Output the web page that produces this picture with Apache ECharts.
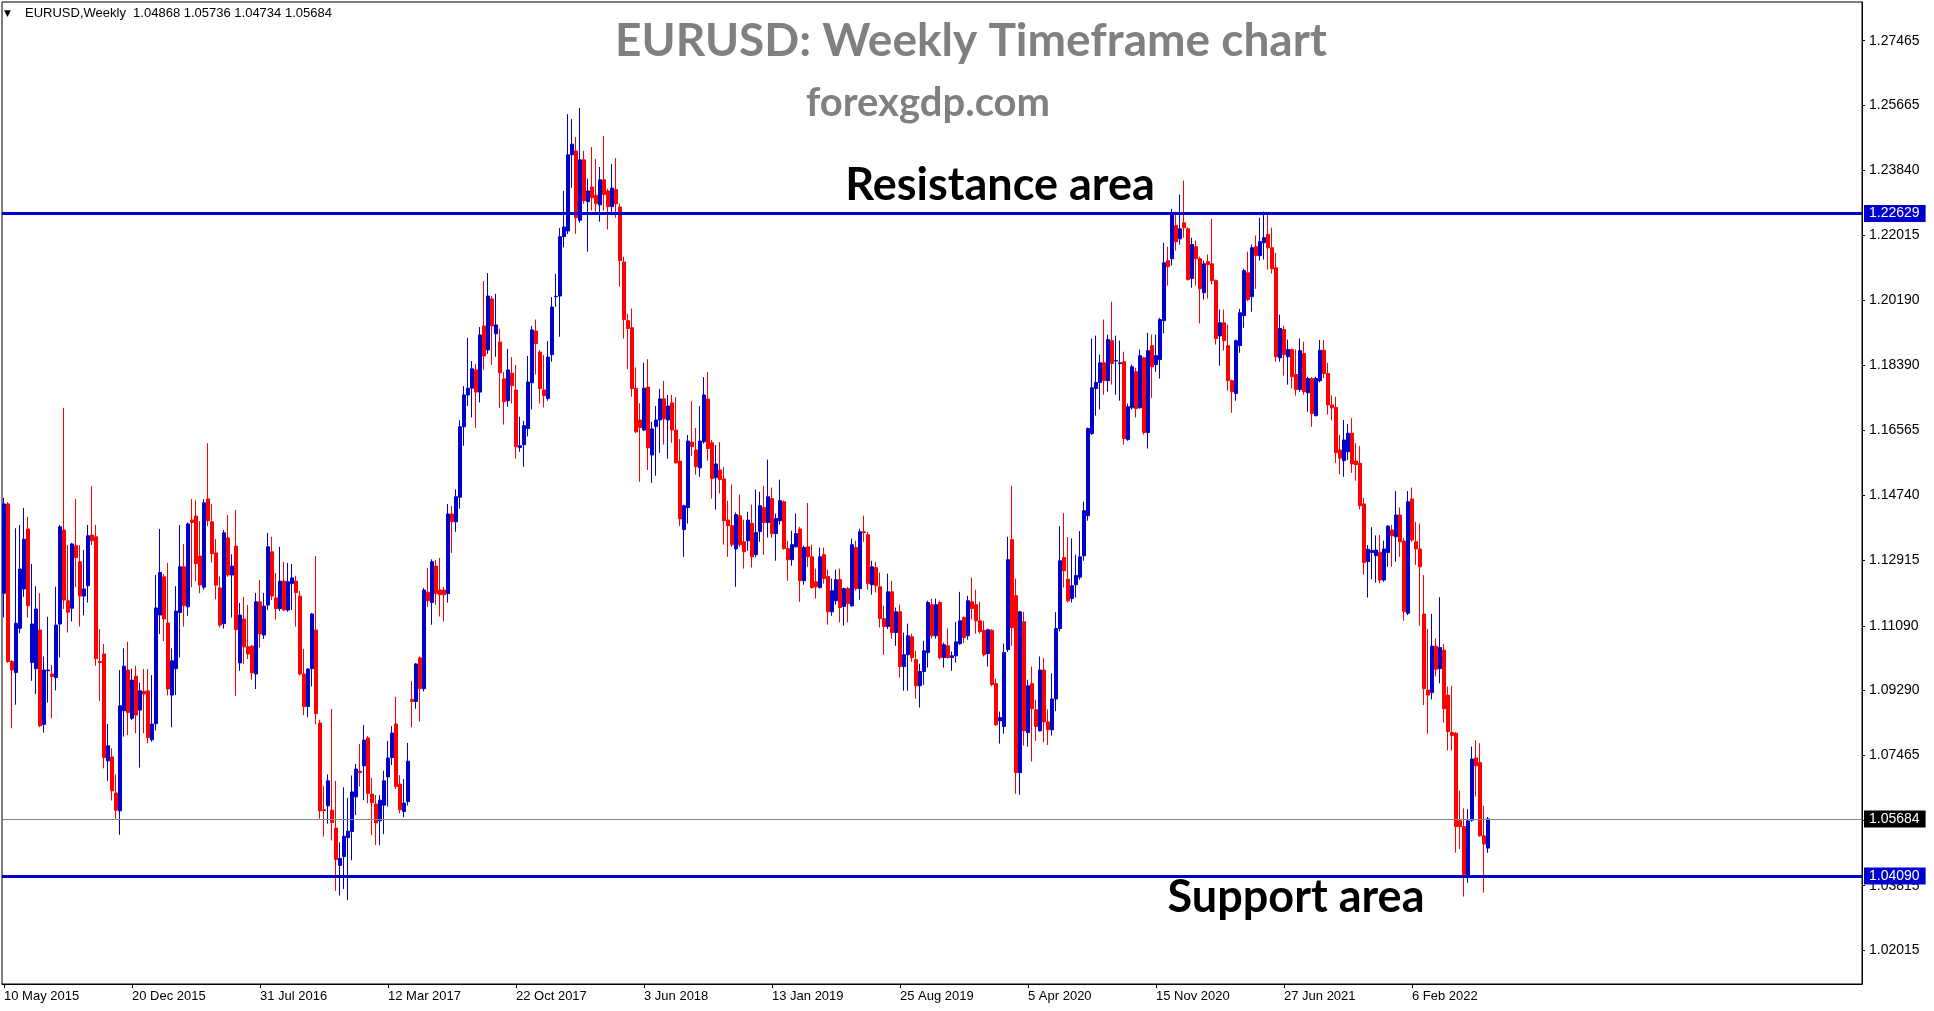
<!DOCTYPE html>
<html>
<head>
<meta charset="utf-8">
<title>EURUSD Weekly</title>
<script src="https://cdn.jsdelivr.net/npm/echarts@6/dist/echarts.min.js"></script>
<style>
  html, body { margin: 0; padding: 0; background: #fff; }
  #chart { width: 1934px; height: 1011px; }
</style>
</head>
<body>
<div id="chart"></div>
<script>
// one row per week: [open, high, low, close]
const ohlc2015 = [
  [1.1200,1.1467,1.1132,1.1450],[1.1450,1.1455,1.1005,1.1009],[1.1009,1.1013,1.0822,1.0985],[1.0978,1.1382,1.0888,1.1116],
  [1.1102,1.1391,1.1088,1.1268],[1.1212,1.1439,1.1190,1.1351],[1.1380,1.1414,1.1132,1.1165],[1.1006,1.1282,1.0955,1.1114],
  [1.0989,1.1220,1.0918,1.1156],[1.1097,1.1200,1.0825,1.0829],[1.0833,1.1023,1.0810,1.0985],[1.0983,1.1134,1.0894,1.0985],
  [1.0974,1.0999,1.0850,1.0967],[1.0964,1.1218,1.0928,1.1111],[1.1114,1.1391,1.1020,1.1386],[1.1377,1.1719,1.1156,1.1181],
  [1.1179,1.1335,1.1090,1.1147],[1.1158,1.1341,1.1121,1.1338],[1.1333,1.1464,1.1217,1.1300],[1.1288,1.1335,1.1107,1.1192],
  [1.1192,1.1321,1.1138,1.1212],[1.1221,1.1391,1.1174,1.1361],[1.1363,1.1500,1.1335,1.1347],[1.1358,1.1391,1.0997,1.1017],
  [1.1009,1.1099,1.0899,1.1006],[1.1030,1.1058,1.0710,1.0740],[1.0731,1.0834,1.0675,1.0773],[1.0742,1.0766,1.0620,1.0647],
  [1.0641,1.0693,1.0569,1.0593],[1.0591,1.0985,1.0524,1.0885],[1.0871,1.1046,1.0799,1.0996],[1.0985,1.1064,1.0803,1.0866],
  [1.0850,1.0989,1.0845,1.0957],[1.0968,1.0997,1.0808,1.0859]
];
const ohlc2016 = [
  [1.0873,1.0950,1.0712,1.0927],[1.0925,1.0988,1.0808,1.0918],[1.0927,1.0988,1.0780,1.0796],[1.0790,1.0971,1.0785,1.0834],
  [1.0835,1.1251,1.0816,1.1159],[1.1139,1.1380,1.1086,1.1258],[1.1246,1.1254,1.1066,1.1128],[1.1117,1.1285,1.0914,1.0932],
  [1.0915,1.1046,1.0825,1.1011],[1.0989,1.1220,1.0915,1.1150],[1.1146,1.1391,1.1020,1.1274],[1.1274,1.1338,1.1107,1.1165],
  [1.1162,1.1398,1.1137,1.1394],[1.1405,1.1464,1.1217,1.1398],[1.1416,1.1460,1.1234,1.1283],[1.1304,1.1402,1.1200,1.1223],
  [1.1217,1.1464,1.1210,1.1453],[1.1464,1.1620,1.1388,1.1403],[1.1400,1.1450,1.1286,1.1311],[1.1313,1.1352,1.1183,1.1223],
  [1.1215,1.1247,1.1105,1.1111],[1.1115,1.1377,1.1101,1.1369],[1.1355,1.1419,1.1246,1.1251],[1.1251,1.1309,1.1132,1.1276],
  [1.1332,1.1433,1.0913,1.1098],[1.1005,1.1173,1.0983,1.1139],[1.1128,1.1190,1.1002,1.1050],[1.1050,1.1167,1.1016,1.1030],
  [1.1052,1.1055,1.0958,1.0977],[1.0974,1.1201,1.0932,1.1176],[1.1176,1.1237,1.1048,1.1086],[1.1083,1.1201,1.1072,1.1164],
  [1.1167,1.1369,1.1153,1.1330],[1.1316,1.1358,1.1181,1.1192],[1.1187,1.1257,1.1126,1.1157],[1.1157,1.1330,1.1150,1.1234],
  [1.1234,1.1288,1.1150,1.1153],[1.1153,1.1285,1.1148,1.1232],[1.1227,1.1282,1.1153,1.1243],[1.1234,1.1249,1.1107,1.1202],
  [1.1192,1.1206,1.0970,1.0974],[1.0974,1.1044,1.0859,1.0883],[1.0883,1.0990,1.0853,1.0988],[1.0989,1.1145,1.0939,1.1142],
  [1.1097,1.1304,1.0833,1.0863],[1.0837,1.0845,1.0569,1.0591],[1.0594,1.0660,1.0519,1.0592],[1.0605,1.0693,1.0555,1.0675],
  [1.0593,1.0876,1.0508,1.0558],[1.0543,1.0675,1.0367,1.0455],[1.0438,1.0503,1.0354,1.0458],[1.0463,1.0657,1.0372,1.0520]
];
const ohlc2017 = [
  [1.0516,1.0627,1.0341,1.0534],[1.0533,1.0690,1.0453,1.0644],[1.0630,1.0722,1.0579,1.0708],[1.0702,1.0778,1.0659,1.0698],
  [1.0717,1.0831,1.0621,1.0789],[1.0795,1.0800,1.0612,1.0640],[1.0638,1.0683,1.0523,1.0614],[1.0610,1.0635,1.0495,1.0557],
  [1.0563,1.0635,1.0495,1.0621],[1.0607,1.0703,1.0526,1.0675],[1.0686,1.0787,1.0603,1.0739],[1.0740,1.0828,1.0719,1.0809],
  [1.0834,1.0910,1.0652,1.0659],[1.0666,1.0691,1.0584,1.0594],[1.0589,1.0680,1.0573,1.0613],[1.0617,1.0781,1.0606,1.0730],
  [1.0903,1.0954,1.0825,1.0897],[1.0897,1.1005,1.0877,1.1002],[1.1019,1.1023,1.0841,1.0933],[1.0933,1.1215,1.0925,1.1209],
  [1.1203,1.1271,1.1162,1.1179],[1.1174,1.1295,1.1112,1.1288],[1.1276,1.1293,1.1168,1.1199],[1.1209,1.1299,1.1135,1.1196],
  [1.1209,1.1218,1.1121,1.1196],[1.1199,1.1450,1.1174,1.1422],[1.1422,1.1444,1.1313,1.1400],[1.1400,1.1491,1.1372,1.1470],
  [1.1469,1.1684,1.1437,1.1666],[1.1666,1.1780,1.1613,1.1755],[1.1755,1.1915,1.1724,1.1774],[1.1774,1.1850,1.1692,1.1828],
  [1.1825,1.1842,1.1663,1.1763],[1.1763,1.1945,1.1734,1.1923],[1.1948,1.2074,1.1825,1.1864],[1.1881,1.2096,1.1870,1.2032],
  [1.2024,1.2032,1.1839,1.1948],[1.1926,1.2038,1.1862,1.1951],[1.1903,1.1940,1.1719,1.1817],[1.1800,1.1819,1.1672,1.1736],
  [1.1739,1.1884,1.1722,1.1825],[1.1816,1.1861,1.1731,1.1781],[1.1769,1.1839,1.1577,1.1610],[1.1608,1.1694,1.1596,1.1613],
  [1.1616,1.1683,1.1554,1.1669],[1.1661,1.1864,1.1639,1.1791],[1.1789,1.1948,1.1714,1.1937],[1.1934,1.1966,1.1812,1.1899],
  [1.1875,1.1881,1.1731,1.1773],[1.1769,1.1867,1.1720,1.1753],[1.1745,1.1906,1.1739,1.1861],[1.1868,1.2029,1.1848,1.2001]
];
const ohlc2018 = [
  [1.2030,1.2094,1.2002,1.2031],[1.2032,1.2222,1.1918,1.2198],[1.2198,1.2326,1.2168,1.2225],[1.2214,1.2541,1.2205,1.2427],
  [1.2427,1.2527,1.2335,1.2457],[1.2438,1.2477,1.2206,1.2251],[1.2244,1.2558,1.2237,1.2413],[1.2413,1.2438,1.2290,1.2299],
  [1.2296,1.2360,1.2156,1.2326],[1.2337,1.2449,1.2271,1.2307],[1.2314,1.2415,1.2268,1.2290],[1.2287,1.2393,1.2240,1.2357],
  [1.2357,1.2480,1.2271,1.2316],[1.2326,1.2332,1.2218,1.2282],[1.2282,1.2401,1.2260,1.2334],[1.2330,1.2418,1.2251,1.2290],
  [1.2281,1.2291,1.2058,1.2131],[1.2127,1.2142,1.1913,1.1966],[1.1963,1.1982,1.1827,1.1941],[1.1943,1.1997,1.1750,1.1773],
  [1.1774,1.1832,1.1648,1.1652],[1.1685,1.1732,1.1512,1.1664],[1.1657,1.1845,1.1654,1.1774],[1.1777,1.1855,1.1545,1.1607],
  [1.1587,1.1680,1.1509,1.1660],[1.1667,1.1724,1.1529,1.1685],[1.1685,1.1772,1.1593,1.1744],[1.1744,1.1794,1.1616,1.1688],
  [1.1685,1.1755,1.1577,1.1724],[1.1733,1.1755,1.1621,1.1657],[1.1657,1.1749,1.1563,1.1565],[1.1570,1.1632,1.1388,1.1408],
  [1.1378,1.1448,1.1302,1.1445],[1.1440,1.1643,1.1395,1.1626],[1.1623,1.1738,1.1584,1.1610],[1.1601,1.1663,1.1532,1.1554],
  [1.1551,1.1724,1.1526,1.1626],[1.1624,1.1805,1.1619,1.1755],[1.1744,1.1819,1.1571,1.1605],[1.1621,1.1629,1.1465,1.1521],
  [1.1523,1.1615,1.1434,1.1562],[1.1545,1.1623,1.1479,1.1518],[1.1520,1.1553,1.1336,1.1403],[1.1405,1.1459,1.1302,1.1389],
  [1.1389,1.1504,1.1330,1.1336],[1.1324,1.1426,1.1218,1.1420],[1.1417,1.1476,1.1330,1.1336],[1.1344,1.1406,1.1269,1.1316],
  [1.1347,1.1428,1.1319,1.1405],[1.1396,1.1448,1.1272,1.1302],[1.1308,1.1490,1.1300,1.1370],[1.1373,1.1484,1.1344,1.1445]
];
const ohlc2019 = [
  [1.1440,1.1501,1.1308,1.1398],[1.1398,1.1574,1.1356,1.1470],[1.1465,1.1496,1.1356,1.1367],[1.1367,1.1423,1.1291,1.1409],
  [1.1403,1.1518,1.1392,1.1459],[1.1456,1.1460,1.1322,1.1325],[1.1325,1.1347,1.1235,1.1294],[1.1294,1.1375,1.1277,1.1336],
  [1.1330,1.1423,1.1328,1.1367],[1.1380,1.1386,1.1176,1.1235],[1.1235,1.1333,1.1224,1.1328],[1.1330,1.1453,1.1274,1.1302],
  [1.1302,1.1336,1.1213,1.1216],[1.1232,1.1269,1.1185,1.1218],[1.1216,1.1328,1.1213,1.1302],[1.1308,1.1328,1.1227,1.1241],
  [1.1247,1.1266,1.1112,1.1148],[1.1148,1.1241,1.1137,1.1207],[1.1179,1.1266,1.1168,1.1238],[1.1238,1.1269,1.1118,1.1160],
  [1.1163,1.1216,1.1109,1.1213],[1.1213,1.1218,1.1118,1.1171],[1.1165,1.1353,1.1162,1.1336],[1.1328,1.1347,1.1207,1.1213],
  [1.1213,1.1381,1.1182,1.1372],[1.1372,1.1417,1.1344,1.1370],[1.1364,1.1372,1.1210,1.1227],[1.1224,1.1291,1.1196,1.1274],
  [1.1272,1.1288,1.1202,1.1221],[1.1218,1.1258,1.1104,1.1129],[1.1129,1.1165,1.1028,1.1107],[1.1107,1.1255,1.1100,1.1204],
  [1.1204,1.1235,1.1073,1.1090],[1.1090,1.1160,1.1053,1.1148],[1.1148,1.1168,1.0964,1.0995],[1.0995,1.1090,1.0927,1.1028],
  [1.1028,1.1115,1.0927,1.1081],[1.1078,1.1087,1.1008,1.1020],[1.1014,1.1039,1.0905,1.0941],[1.0941,1.1003,1.0880,1.0981],
  [1.0981,1.1067,1.0944,1.1039],[1.1034,1.1179,1.0992,1.1174],[1.1168,1.1185,1.1073,1.1081],[1.1081,1.1185,1.1073,1.1168],
  [1.1174,1.1179,1.1015,1.1020],[1.1020,1.1062,1.0992,1.1056],[1.1053,1.1101,1.1017,1.1020],[1.1020,1.1037,1.0983,1.1025],
  [1.1025,1.1120,1.1006,1.1064],[1.1059,1.1204,1.1056,1.1123],[1.1132,1.1135,1.1060,1.1076],[1.1081,1.1193,1.1070,1.1179]
];
const ohlc2020 = [
  [1.1176,1.1244,1.1126,1.1157],[1.1168,1.1210,1.1087,1.1123],[1.1123,1.1176,1.1087,1.1093],[1.1096,1.1123,1.1023,1.1028],
  [1.1031,1.1101,1.0995,1.1098],[1.1096,1.1100,1.0940,1.0944],[1.0947,1.0961,1.0829,1.0832],[1.0843,1.0869,1.0779,1.0852],
  [1.0827,1.1059,1.0807,1.1034],[1.1042,1.1358,1.1036,1.1294],[1.1350,1.1501,1.1053,1.1104],[1.1193,1.1241,1.0639,1.0698],
  [1.0698,1.1151,1.0636,1.1148],[1.1120,1.1148,1.0774,1.0815],[1.0810,1.0958,1.0771,1.0941],[1.0947,1.0995,1.0729,1.0877],
  [1.0874,1.0902,1.0787,1.0827],[1.0815,1.1023,1.0813,1.0985],[1.0985,1.1018,1.0783,1.0840],[1.0840,1.0875,1.0775,1.0818],
  [1.0818,1.0976,1.0802,1.0904],[1.0904,1.1147,1.0870,1.1101],[1.1101,1.1388,1.1093,1.1291],[1.1300,1.1424,1.1216,1.1263],
  [1.1239,1.1357,1.1174,1.1179],[1.1185,1.1353,1.1174,1.1221],[1.1224,1.1308,1.1188,1.1250],[1.1245,1.1374,1.1238,1.1302],
  [1.1305,1.1456,1.1291,1.1431],[1.1417,1.1664,1.1403,1.1661],[1.1647,1.1913,1.1643,1.1775],[1.1773,1.1921,1.1697,1.1790],
  [1.1790,1.1868,1.1714,1.1845],[1.1845,1.1966,1.1756,1.1795],[1.1795,1.1924,1.1764,1.1910],[1.1907,1.2016,1.1784,1.1843],
  [1.1850,1.1921,1.1756,1.1851],[1.1843,1.1907,1.1739,1.1845],[1.1848,1.1876,1.1616,1.1633],[1.1630,1.1731,1.1627,1.1722],
  [1.1719,1.1840,1.1714,1.1834],[1.1820,1.1831,1.1692,1.1717],[1.1719,1.1882,1.1717,1.1865],[1.1859,1.1862,1.1644,1.1650],
  [1.1650,1.1929,1.1605,1.1879],[1.1893,1.1924,1.1747,1.1834],[1.1840,1.1924,1.1820,1.1865],[1.1854,1.1971,1.1801,1.1966],
  [1.1963,1.2181,1.1927,1.2125],[1.2131,1.2170,1.2061,1.2114],[1.2136,1.2276,1.2117,1.2260],[1.2229,1.2268,1.2159,1.2184]
];
const ohlc2021 = [
  [1.2192,1.2316,1.2176,1.2220],[1.2237,1.2355,1.2195,1.2223],[1.2220,1.2224,1.2075,1.2078],[1.2081,1.2195,1.2055,1.2176],
  [1.2170,1.2187,1.2061,1.2136],[1.2136,1.2142,1.1955,1.2052],[1.2041,1.2131,1.2022,1.2122],[1.2128,1.2148,1.2025,1.2120],
  [1.2122,1.2248,1.2064,1.2075],[1.2075,1.2078,1.1896,1.1913],[1.1920,1.1994,1.1837,1.1957],[1.1957,1.1994,1.1879,1.1907],
  [1.1893,1.1952,1.1767,1.1795],[1.1795,1.1798,1.1705,1.1764],[1.1759,1.1910,1.1739,1.1907],[1.1893,1.1996,1.1873,1.1985],
  [1.1977,1.2108,1.1943,1.2103],[1.2097,1.2156,1.2017,1.2022],[1.2030,1.2176,1.1988,1.2167],[1.2170,1.2201,1.2052,1.2145],
  [1.2145,1.2251,1.2131,1.2184],[1.2181,1.2268,1.2134,1.2195],[1.2204,1.2260,1.2106,1.2167],[1.2167,1.2223,1.2095,1.2108],
  [1.2111,1.2153,1.1848,1.1862],[1.1859,1.1980,1.1848,1.1941],[1.1938,1.1949,1.1809,1.1868],[1.1862,1.1910,1.1784,1.1882],
  [1.1882,1.1885,1.1773,1.1806],[1.1812,1.1882,1.1753,1.1770],[1.1770,1.1913,1.1764,1.1879],[1.1871,1.1904,1.1756,1.1764],
  [1.1761,1.1806,1.1708,1.1801],[1.1801,1.1805,1.1666,1.1703],[1.1697,1.1806,1.1695,1.1801],[1.1795,1.1909,1.1790,1.1880],
  [1.1880,1.1909,1.1802,1.1815],[1.1815,1.1845,1.1700,1.1727],[1.1727,1.1754,1.1684,1.1719],[1.1720,1.1750,1.1565,1.1593],
  [1.1601,1.1643,1.1533,1.1578],[1.1571,1.1685,1.1526,1.1629],[1.1596,1.1674,1.1573,1.1648],[1.1648,1.1690,1.1537,1.1562],
  [1.1570,1.1620,1.1515,1.1560],[1.1564,1.1612,1.1435,1.1445],[1.1450,1.1467,1.1252,1.1286],[1.1289,1.1335,1.1188,1.1323],
  [1.1314,1.1385,1.1239,1.1320],[1.1305,1.1362,1.1230,1.1321],[1.1315,1.1363,1.1228,1.1237],[1.1237,1.1347,1.1232,1.1324]
];
const ohlc2022 = [
  [1.1314,1.1390,1.1274,1.1388],[1.1377,1.1391,1.1274,1.1361],[1.1358,1.1486,1.1288,1.1419],[1.1419,1.1440,1.1302,1.1344],
  [1.1346,1.1354,1.1123,1.1149],[1.1144,1.1486,1.1139,1.1456],[1.1464,1.1496,1.1344,1.1349],[1.1344,1.1400,1.1279,1.1324],
  [1.1324,1.1395,1.1109,1.1274],[1.1142,1.1251,1.0887,1.0933],[1.0929,1.1100,1.0807,1.0915],[1.0922,1.1142,1.0903,1.1052],
  [1.1052,1.1073,1.0967,1.0987],[1.0989,1.1189,1.0948,1.1048],[1.1041,1.1058,1.0838,1.0877],[1.0915,1.0939,1.0760,1.0813],
  [1.0810,1.0941,1.0760,1.0802],[1.0808,1.0812,1.0474,1.0547],[1.0563,1.0648,1.0484,1.0547],[1.0547,1.0598,1.0351,1.0412],
  [1.0412,1.0596,1.0390,1.0563],[1.0565,1.0771,1.0561,1.0736],[1.0739,1.0789,1.0631,1.0717],[1.0726,1.0780,1.0519,1.0521],
  [1.0521,1.0605,1.0362,1.0498],[1.04868,1.05736,1.04734,1.05684]
];

// x-axis labels, one every 32 weeks starting at the first candle
const dateLabels = ['10 May 2015', '20 Dec 2015', '31 Jul 2016', '12 Mar 2017', '22 Oct 2017', '3 Jun 2018',
  '13 Jan 2019', '25 Aug 2019', '5 Apr 2020', '15 Nov 2020', '27 Jun 2021', '6 Feb 2022'];
const priceTicks = [1.27465, 1.25665, 1.23840, 1.22015, 1.20190, 1.18390, 1.16565, 1.14740,
  1.12915, 1.11090, 1.09290, 1.07465, 1.05640, 1.03815, 1.02015];
const resistanceLevel = 1.22629;
const supportLevel = 1.04090;

const weeks = [].concat(ohlc2015, ohlc2016, ohlc2017, ohlc2018, ohlc2019, ohlc2020, ohlc2021, ohlc2022);
const lastWeek = weeks[weeks.length - 1];
const labelStep = 32;
const slotCount = 465; // chart leaves empty room on the right like MT4

const categories = [];
for (let i = 0; i < slotCount; i++) categories.push(String(i));

const candleData = weeks.map(w => [w[0], w[3], w[2], w[1]]);
const headerText = 'EURUSD,Weekly  ' + lastWeek.map(v => v.toFixed(5)).join(' ');

const isLabelSlot = (index) => index % labelStep === 0 && index / labelStep < dateLabels.length;

const blue = '#0000CD';
const red = '#FF0000';

const levelLabel = (bg) => ({
  show: true,
  position: 'end',
  distance: 2,
  formatter: (p) => Number(p.value).toFixed(5),
  color: '#fff',
  backgroundColor: bg,
  padding: [2, 6, 1, 5],
  fontFamily: 'Liberation Sans',
  fontSize: 14
});

const chart = echarts.init(document.getElementById('chart'));

const option = {
  animation: false,
  backgroundColor: '#fff',
  grid: {
    show: true,
    left: 2,
    right: 72,
    top: 2,
    bottom: 27,
    borderColor: '#000',
    borderWidth: 1,
    backgroundColor: '#fff'
  },
  xAxis: {
    type: 'category',
    data: categories,
    boundaryGap: true,
    axisLine: { show: true, lineStyle: { color: '#000', width: 1 } },
    axisTick: {
      show: true,
      alignWithLabel: true,
      interval: isLabelSlot,
      length: 4,
      lineStyle: { color: '#000' }
    },
    axisLabel: {
      interval: isLabelSlot,
      formatter: (value, index) => dateLabels[index / labelStep] || '',
      align: 'left',
      margin: 6,
      color: '#000',
      fontFamily: 'Liberation Sans',
      fontSize: 13
    },
    splitLine: { show: false }
  },
  yAxis: {
    type: 'value',
    position: 'right',
    min: 1.01064,
    max: 1.28548,
    axisLine: { show: true, lineStyle: { color: '#000', width: 1 } },
    axisTick: { show: true, length: 3, customValues: priceTicks, lineStyle: { color: '#000' } },
    axisLabel: {
      customValues: priceTicks,
      formatter: (v) => v.toFixed(5),
      margin: 7,
      color: '#000',
      fontFamily: 'Liberation Sans',
      fontSize: 14
    },
    splitLine: { show: false }
  },
  series: [
    {
      type: 'candlestick',
      data: candleData,
      barWidth: 3,
      itemStyle: {
        color: blue,
        color0: red,
        borderColor: blue,
        borderColor0: red,
        borderWidth: 1
      },
      markLine: {
        silent: true,
        precision: 5,
        symbol: ['none', 'none'],
        data: [
          { yAxis: resistanceLevel, lineStyle: { color: blue, width: 3, type: 'solid' }, label: levelLabel(blue) },
          { yAxis: lastWeek[3], lineStyle: { color: '#7A8894', width: 1, type: 'solid' }, label: levelLabel('#000') },
          { yAxis: supportLevel, lineStyle: { color: blue, width: 3, type: 'solid' }, label: levelLabel(blue) }
        ]
      }
    }
  ],
  graphic: [
    { type: 'text', x: 4, y: 9, style: { text: '▼', font: '9px "DejaVu Sans"', fill: '#000' } },
    { type: 'text', x: 25, y: 7, style: { text: headerText, font: '13px "Liberation Sans"', fill: '#000' } },
    {
      type: 'text', x: 971, y: 41,
      style: { text: 'EURUSD: Weekly Timeframe chart', font: 'bold 46px Lato', fill: '#808080',
        align: 'center', verticalAlign: 'middle', textAlign: 'center', textVerticalAlign: 'middle' }
    },
    {
      type: 'text', x: 928, y: 103,
      style: { text: 'forexgdp.com', font: 'bold 40px Lato', fill: '#808080',
        align: 'center', verticalAlign: 'middle', textAlign: 'center', textVerticalAlign: 'middle' }
    },
    {
      type: 'text', x: 1000, y: 185,
      style: { text: 'Resistance area', font: 'bold 45px Lato', fill: '#000',
        align: 'center', verticalAlign: 'middle', textAlign: 'center', textVerticalAlign: 'middle' }
    },
    {
      type: 'text', x: 1296, y: 897,
      style: { text: 'Support area', font: 'bold 45px Lato', fill: '#000',
        align: 'center', verticalAlign: 'middle', textAlign: 'center', textVerticalAlign: 'middle' }
    }
  ]
};

chart.setOption(option);
</script>
</body>
</html>
